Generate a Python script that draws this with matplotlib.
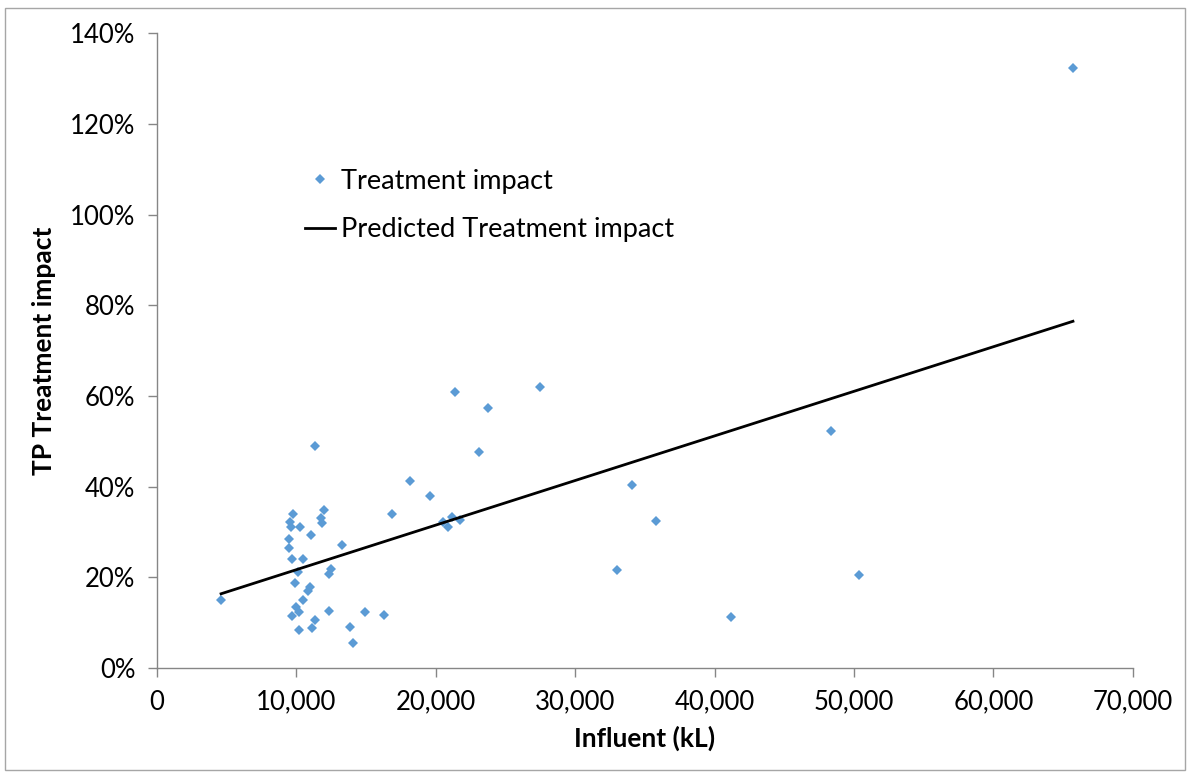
import matplotlib.pyplot as plt
from matplotlib.patches import Rectangle
from matplotlib.ticker import FuncFormatter

plt.rcParams['font.family'] = ['Lato', 'DejaVu Sans']

# Influent (kL) and TP treatment impact (%)
influent = [4591, 9498, 9498, 9541, 9613, 9684, 9713, 9756, 9900, 10000,
            10143, 10165, 10187, 10287, 10474, 10502, 10861, 10976, 11026, 11119,
            11363, 11363, 11743, 11865, 11958, 12339, 12367, 12461, 13300, 13845,
            14060, 14950, 16284, 16858, 18128, 19584, 20517, 20854, 21141, 21377,
            21765, 23128, 23745, 27475, 32977, 34053, 35775, 41155, 48328, 50336,
            65701]
impact = [15.1, 28.5, 26.5, 32.2, 31.1, 11.6, 24.1, 33.9, 18.7, 13.5,
          21.1, 8.5, 12.4, 31.1, 24.1, 15.0, 17.0, 18.0, 29.4, 8.9,
          49.0, 10.7, 33.1, 32.0, 34.8, 20.7, 12.5, 21.8, 27.1, 9.1,
          5.5, 12.4, 11.7, 34.1, 41.3, 37.9, 32.2, 31.1, 33.3, 61.0,
          32.6, 47.6, 57.4, 62.0, 21.6, 40.3, 32.4, 11.2, 52.2, 20.5,
          132.4]

# predicted line end points
pred_x = [4591, 65701]
pred_y = [16.4, 76.5]

fig = plt.figure(figsize=(11.9, 7.76), dpi=100)
ax = fig.add_axes([0.132, 0.139, 0.820, 0.818])

ax.plot(influent, impact, 'D', color='#5B9BD5', markersize=4.8,
        markeredgewidth=0, label='Treatment impact')
ax.plot(pred_x, pred_y, color='black', linewidth=2, label='Predicted Treatment impact')

ax.set_xlim(0, 70000)
ax.set_ylim(0, 140)
ax.set_xticks(range(0, 70001, 10000))
ax.set_yticks(range(0, 141, 20))
ax.xaxis.set_major_formatter(FuncFormatter(lambda v, p: f'{int(v):,}'))
ax.yaxis.set_major_formatter(FuncFormatter(lambda v, p: f'{int(v)}%'))

for s in ['top', 'right']:
    ax.spines[s].set_visible(False)
for s in ['left', 'bottom']:
    ax.spines[s].set_color('#868686')
    ax.spines[s].set_linewidth(1)
ax.tick_params(direction='out', length=6.5, width=1, color='#868686',
               labelsize=18.5, pad=9)

ax.set_xlabel('Influent (kL)', fontsize=19, fontweight='bold', labelpad=8)
ax.set_ylabel('TP Treatment impact', fontsize=19, fontweight='bold', labelpad=10)

ax.legend(loc='upper left', bbox_to_anchor=(0.127, 0.825), frameon=False,
          fontsize=19.5, handlelength=1.1, handletextpad=0.22, labelspacing=0.87)

fig.patches.append(Rectangle((0.004, 0.008), 0.992, 0.982, transform=fig.transFigure,
                             fill=False, edgecolor='#A6A6A6', linewidth=1))

fig.savefig('out.png', dpi=100)
